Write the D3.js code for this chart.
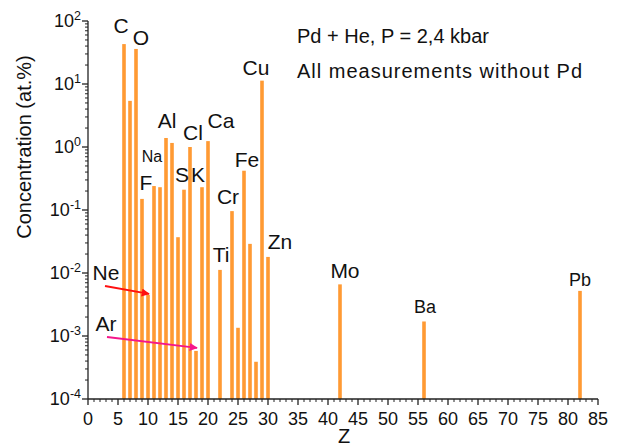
<!DOCTYPE html>
<html>
<head>
<meta charset="utf-8">
<script src="https://cdn.jsdelivr.net/npm/d3@7"></script>
<style>
  body { margin: 0; background: #fff; }
  svg { font-family: "Liberation Sans", Arial, sans-serif; }
</style>
</head>
<body>
<svg id="chart" width="619" height="447"></svg>
<script>
// atomic numbers and concentrations (at.%)
var elements = ['C', 'N', 'O', 'F', 'Ne', 'Na', 'Mg', 'Al', 'Si', 'P', 'S', 'Cl', 'Ar', 'K', 'Ca',
    'Ti', 'Cr', 'Mn', 'Fe', 'Co', 'Ni', 'Cu', 'Zn', 'Mo', 'Ba', 'Pb'];
var zValues = [6, 7, 8, 9, 10, 11, 12, 13, 14, 15, 16, 17, 18, 19, 20,
    22, 24, 25, 26, 27, 28, 29, 30, 42, 56, 82];
var concentrations = [43, 5.4, 36, 0.15, 0.0045, 0.24, 0.23, 1.39, 1.16, 0.037, 0.21, 1.0, 0.00058, 0.23, 1.24,
    0.0112, 0.096, 0.00135, 0.42, 0.029, 0.00039, 11.3, 0.018, 0.0066, 0.0017, 0.0052];
var labelNames = ['C', 'O', 'F', 'Na', 'Al', 'S', 'Cl', 'K', 'Ca', 'Ti', 'Cr', 'Fe', 'Cu', 'Zn', 'Mo', 'Ba', 'Pb'];
var xTicks = d3.range(0, 86, 5);
var yDecades = [-4, -3, -2, -1, 0, 1, 2];

var BAR_COLOR = '#ff9a33';
var AXIS_COLOR = '#222';

var svg = d3.select('#chart');
var margin = { left: 88, top: 21, right: 598, bottom: 399 };

var x = d3.scaleLinear().domain([0, 85]).range([margin.left, margin.right]);
var y = d3.scaleLog().domain([1e-4, 1e2]).range([margin.bottom, margin.top]);

var data = zValues.map(function (z, i) {
    return { z: z, name: elements[i], value: concentrations[i] };
});

// bars
svg.append('g').selectAll('rect').data(data).enter().append('rect').
    attr('x', function (d) { return x(d.z) - 1.8; }).
    attr('width', 3.6).
    attr('y', function (d) { return y(d.value); }).
    attr('height', function (d) { return y(1e-4) - y(d.value); }).
    style('fill', BAR_COLOR);

// axes
var axes = svg.append('g').attr('stroke', AXIS_COLOR).attr('stroke-width', 1.3);
axes.append('line').attr('x1', x(0)).attr('x2', x(0)).attr('y1', y(1e2)).attr('y2', y(1e-4));
axes.append('line').attr('x1', x(0)).attr('x2', x(85)).attr('y1', y(1e-4)).attr('y2', y(1e-4));

// y ticks, major and log minor
yDecades.forEach(function (p) {
    var v = Math.pow(10, p);
    axes.append('line').attr('x1', x(0) - 6).attr('x2', x(0)).attr('y1', y(v)).attr('y2', y(v));
    if (p < 2) {
        d3.range(2, 10).forEach(function (m) {
            var yy = y(m * v);
            axes.append('line').attr('x1', x(0) - 3).attr('x2', x(0)).attr('y1', yy).attr('y2', yy).attr('stroke-width', 1);
        });
    }
});
// x ticks
d3.range(0, 86).forEach(function (z) {
    var major = z % 5 == 0;
    axes.append('line').attr('x1', x(z)).attr('x2', x(z)).
        attr('y1', y(1e-4)).attr('y2', y(1e-4) + (major ? 6 : 3)).
        attr('stroke-width', major ? 1.3 : 1);
});

// tick labels
var yLabels = svg.append('g').style('font-size', '18px').attr('fill', '#111');
yDecades.forEach(function (p) {
    var t = yLabels.append('text').attr('x', 81).attr('y', y(Math.pow(10, p)) + 6).attr('text-anchor', 'end');
    t.append('tspan').text('10');
    t.append('tspan').attr('dy', -7).style('font-size', '12.5px').text(p);
});
svg.append('g').style('font-size', '18px').attr('fill', '#111').
    selectAll('text').data(xTicks).enter().append('text').
    attr('x', function (d) { return x(d); }).
    attr('y', 425).
    attr('text-anchor', 'middle').
    text(function (d) { return d; });

// axis titles
svg.append('text').attr('transform', 'translate(31,147)rotate(-90)').
    attr('text-anchor', 'middle').style('font-size', '20px').attr('fill', '#111').
    text('Concentration (at.%)');
svg.append('text').attr('x', x(42.7)).attr('y', 443).attr('text-anchor', 'middle').
    style('font-size', '20px').attr('fill', '#111').text('Z');

// element labels: [offset from bar in Z units, baseline y, font size]
var labelPos = {
    C: [-0.5, 33, 21], O: [0.83, 45, 21], F: [0.67, 190, 21], Na: [-0.33, 162, 16], Al: [0.17, 128, 21],
    S: [-0.33, 182, 21], Cl: [0.5, 140, 21], K: [-0.67, 182, 21], Ca: [2.17, 128, 21], Ti: [0.17, 262, 21],
    Cr: [-0.67, 204, 21], Fe: [0.5, 167, 21], Cu: [-1.0, 75, 21], Zn: [2.0, 249, 21], Mo: [0.83, 278, 21],
    Ba: [0.17, 313, 18], Pb: [0, 286, 18]
};
svg.append('g').attr('fill', '#111').selectAll('text').
    data(data.filter(function (d) { return labelNames.indexOf(d.name) >= 0; })).
    enter().append('text').
    attr('x', function (d) { return x(d.z + labelPos[d.name][0]); }).
    attr('y', function (d) { return labelPos[d.name][1]; }).
    attr('text-anchor', 'middle').
    style('font-size', function (d) { return labelPos[d.name][2] + 'px'; }).
    text(function (d) { return d.name; });

// Ne and Ar labels with arrows pointing at their bars
var defs = svg.append('defs');
function arrowHead(id, color) {
    defs.append('marker').attr('id', id).attr('viewBox', '0 0 10 10').
        attr('refX', 9).attr('refY', 5).attr('markerWidth', 4.5).attr('markerHeight', 4.5).
        attr('orient', 'auto').
        append('path').attr('d', 'M0,0L10,5L0,10z').attr('fill', color);
}
arrowHead('headNe', '#ff1010');
arrowHead('headAr', '#f5168a');

var ne = data.filter(function (d) { return d.name == 'Ne'; })[0];
var ar = data.filter(function (d) { return d.name == 'Ar'; })[0];
svg.append('text').attr('x', 106).attr('y', 280).attr('text-anchor', 'middle').
    style('font-size', '21px').attr('fill', '#111').text('Ne');
svg.append('text').attr('x', 106).attr('y', 331).attr('text-anchor', 'middle').
    style('font-size', '21px').attr('fill', '#111').text('Ar');
svg.append('line').attr('x1', 105).attr('y1', 286).attr('x2', x(ne.z) + 1).attr('y2', y(ne.value) - 1).
    attr('stroke', '#ff1010').attr('stroke-width', 1.8).attr('marker-end', 'url(#headNe)');
svg.append('line').attr('x1', 107).attr('y1', 337).attr('x2', x(ar.z) + 1).attr('y2', y(ar.value) - 3).
    attr('stroke', '#f5168a').attr('stroke-width', 1.8).attr('marker-end', 'url(#headAr)');

// header notes
var notes = svg.append('g').style('font-size', '20px').attr('fill', '#111');
notes.append('text').attr('x', 297).attr('y', 43).text('Pd + He, P = 2,4 kbar');
notes.append('text').attr('x', 297).attr('y', 78).style('letter-spacing', '1px').text('All measurements without Pd');
</script>
</body>
</html>
